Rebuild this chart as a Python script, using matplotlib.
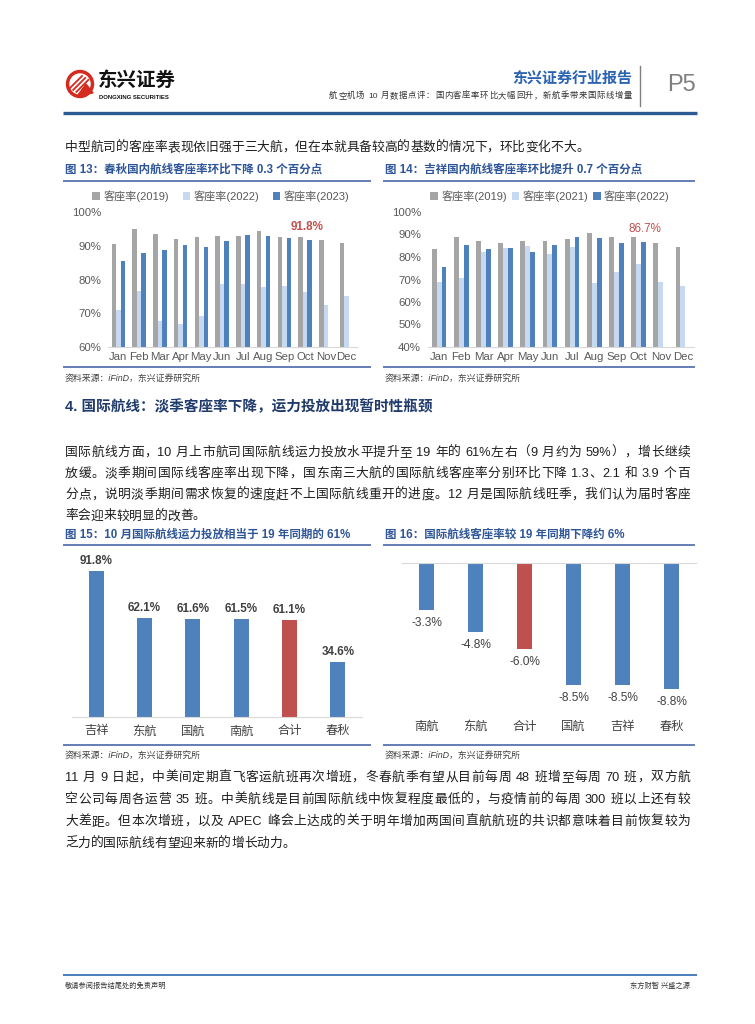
import re
import numpy as np
import matplotlib
matplotlib.use("Agg")
import matplotlib.pyplot as plt
from matplotlib.patches import Patch, Circle, Polygon

W, H = 755, 1024
FONTS = ['Liberation Sans', 'Noto Sans CJK SC']
plt.rcParams['font.family'] = FONTS

# ---- data ----
months = ['Jan', 'Feb', 'Mar', 'Apr', 'May', 'Jun',
          'Jul', 'Aug', 'Sep', 'Oct', 'Nov', 'Dec']

# 图13 春秋国内航线客座率 (%)
cq_2019 = [90.6, 94.9, 93.4, 91.9, 92.5, 92.8, 92.8, 94.5, 92.5, 92.5, 91.6, 90.8]
cq_2022 = [70.9, 76.5, 67.7, 66.8, 69.1, 78.8, 78.8, 77.7, 78.0, 76.2, 72.5, 75.0]
cq_2023 = [85.5, 88.0, 88.8, 90.3, 89.6, 91.3, 93.3, 92.8, 92.2, 91.8]
cq_labels = ['客座率(2019)', '客座率(2022)', '客座率(2023)']

# 图14 吉祥国内航线客座率 (%)
jy_2019 = [83.5, 88.7, 87.2, 86.1, 86.9, 86.9, 88.1, 90.7, 88.7, 89.1, 86.1, 84.3]
jy_2021 = [68.7, 70.8, 82.3, 83.9, 84.8, 81.4, 84.3, 68.6, 73.3, 76.8, 68.7, 67.1]
jy_2022 = [75.4, 85.2, 83.5, 83.9, 82.3, 85.2, 89.0, 88.5, 86.4, 86.7]
jy_labels = ['客座率(2019)', '客座率(2021)', '客座率(2022)']

# 图15 10月国际航线运力投放 / 19年同期 (%)
cap_names = ['吉祥', '东航', '国航', '南航', '合计', '春秋']
cap_values = [91.8, 62.1, 61.6, 61.5, 61.1, 34.6]

# 图16 国际航线客座率较19年同期变化 (pct)
lf_names = ['南航', '东航', '合计', '国航', '吉祥', '春秋']
lf_values = [-3.3, -4.8, -6.0, -8.5, -8.5, -8.8]

para1 = [
    "国际航线方面，10 月上市航司国际航线运力投放水平提升至 19 年的 61%左右（9 月约为 59%），增长继续",
    "放缓。淡季期间国际线客座率出现下降，国东南三大航的国际航线客座率分别环比下降 1.3、2.1 和 3.9 个百",
    "分点，说明淡季期间需求恢复的速度赶不上国际航线重开的进度。12 月是国际航线旺季，我们认为届时客座",
    "率会迎来较明显的改善。",
]
para2 = [
    "11 月 9 日起，中美间定期直飞客运航班再次增班，冬春航季有望从目前每周 48 班增至每周 70 班，双方航",
    "空公司每周各运营 35 班。中美航线是目前国际航线中恢复程度最低的，与疫情前的每周 300 班以上还有较",
    "大差距。但本次增班，以及 APEC 峰会上达成的关于明年增加两国间直航航班的共识都意味着目前恢复较为",
    "乏力的国际航线有望迎来新的增长动力。",
]

GRAY = '#A5A5A5'
LIGHT = '#C6D9F0'
BLUE = '#4F81BD'
RED = '#C0504D'
INK = '#1E1E1E'
TITLE = '#2E5597'
RULE = '#4A67A8'
AXTXT = '#595959'

fig = plt.figure(figsize=(W / 100, H / 100), dpi=100)
page = fig.add_axes([0, 0, 1, 1])
page.set_xlim(0, W)
page.set_ylim(H, 0)
page.axis('off')
renderer = fig.canvas.get_renderer()


def wide(ch):
    return ord(ch[0]) > 0x2e7f


def line(s, x0, y, x1=None, size=9.2, color=INK, weight='normal'):
    # lay out one text line token by token, spreading it to x1 if given
    em = size * 100 / 72
    toks = re.findall(r'[!-~]+| |.', s)
    widths = []
    for tk in toks:
        if tk == ' ':
            widths.append(0.28 * em)
        elif wide(tk):
            widths.append(em)
        else:
            t = page.text(0, 0, tk, fontsize=size, fontweight=weight)
            widths.append(t.get_window_extent(renderer).width)
            t.remove()
    gap = 0.0
    if x1 is not None and len(toks) > 1:
        gap = (x1 - x0 - sum(widths)) / (len(toks) - 1)
    x = x0
    base = y + 0.36 * em
    for tk, w in zip(toks, widths):
        if tk != ' ':
            kw = dict(fontsize=size, color=color, fontweight=weight, va='baseline')
            if wide(tk):
                if tk == '（':
                    page.text(x + w, base, tk, ha='right', **kw)
                elif tk in '，。、：；）':
                    page.text(x, base, tk, ha='left', **kw)
                else:
                    page.text(x + w / 2, base, tk, ha='center', **kw)
            else:
                page.text(x, base, tk, ha='left', **kw)
        x += w + gap


def hrule(x0, x1, y, color=RULE, lw=1.2):
    page.plot([x0, x1], [y, y], color=color, lw=lw, solid_capstyle='butt')


def px_axes(l, t, r, b):
    return fig.add_axes([l / W, 1 - b / H, (r - l) / W, (b - t) / H])


def source(x, y):
    page.text(x, y, '资料来源：iFinD，东兴证券研究所', fontsize=6.4,
              color='#404040', style='italic', va='center')


# ---- header ----
page.add_patch(Circle((80, 84), 13.5, color='#D42A20'))
page.add_patch(Circle((80, 84), 10, color='white'))
for dx in (0, 3.2, 6.4):
    page.plot([70 + dx, 82 + dx], [88 + dx * 0.6, 76 + dx * 0.6], color='#D42A20', lw=1.3)
page.add_patch(Polygon([(78, 95), (86, 84), (93, 93)], color='#D42A20'))
page.text(98, 81, '东兴证券', fontsize=14, fontweight='heavy', color='#111111', va='center')
page.text(99, 97.5, 'DONGXING SECURITIES', fontsize=4.3, fontweight='bold',
          color='#111111', va='center')

page.text(632, 78, '东兴证券行业报告', fontsize=10.8, fontweight='bold',
          color='#2A63B0', ha='right', va='center')
line('航空机场 10 月数据点评：国内客座率环比大幅回升，新航季带来国际线增量',
     329, 95, 632, size=6.0, color='#333333')
page.plot([640, 640], [66, 106], color='#808080', lw=1)
page.text(667, 85, 'P5', fontsize=17, color='#7F7F7F', va='center')
hrule(63, 697, 113, color='#2B5A92', lw=2.4)

line('中型航司的客座率表现依旧强于三大航，但在本就具备较高的基数的情况下，环比变化不大。', 65, 146)

# ---- figure 13 / 14 frames ----
page.text(65, 170, '图 13：春秋国内航线客座率环比下降 0.3 个百分点', fontsize=8.3,
          fontweight='bold', color=TITLE, va='center')
page.text(385, 170, '图 14：吉祥国内航线客座率环比提升 0.7 个百分点', fontsize=8.3,
          fontweight='bold', color=TITLE, va='center')
hrule(63, 371, 181)
hrule(383, 695, 181)
hrule(63, 371, 367)
hrule(383, 695, 367)
source(65, 379)
source(385, 379)


def month_chart(ax, s1, s2, s3, ymin, names, colors, legend_x, colspace):
    x = np.arange(len(months))
    bw = 0.22
    ax.bar(x - bw, s1, bw, color=colors[0])
    ax.bar(x, s2, bw, color=colors[1])
    ax.bar(np.arange(len(s3)) + bw, s3, bw, color=colors[2])
    ax.set_ylim(ymin, 100)
    ax.set_xlim(-0.5, len(months) - 0.5)
    ax.set_yticks(range(ymin, 101, 10))
    ax.set_yticklabels([f'{v}%' for v in range(ymin, 101, 10)])
    ax.set_xticks(x)
    ax.set_xticklabels(months)
    ax.tick_params(length=0, labelsize=8.2, labelcolor=AXTXT)
    ax.tick_params(axis='y', pad=5)
    ax.tick_params(axis='x', pad=3.5)
    for side in ('top', 'right', 'left'):
        ax.spines[side].set_visible(False)
    ax.spines['bottom'].set_color('#D9D9D9')
    ax.patch.set_alpha(0)
    handles = [Patch(facecolor=c) for c in colors]
    fig.legend(handles, names, loc='center', bbox_to_anchor=(legend_x / W, 1 - 196 / H),
               ncol=3, frameon=False, fontsize=8, handlelength=0.7, handleheight=0.7,
               handletextpad=0.3, columnspacing=colspace, labelcolor=AXTXT,
               borderaxespad=0, borderpad=0)


ax13 = px_axes(108, 212, 357, 347)
month_chart(ax13, cq_2019, cq_2022, cq_2023, 60, cq_labels, [GRAY, LIGHT, BLUE], 221, 1.2)
ax13.text(9.1, cq_2023[9] + 2, f'{cq_2023[9]:.1f}%', ha='center', va='bottom',
          fontsize=8.4, fontweight='bold', color=RED)

ax14 = px_axes(428, 212, 694, 347)
month_chart(ax14, jy_2019, jy_2021, jy_2022, 40, jy_labels, [GRAY, LIGHT, BLUE], 550, 0.4)
ax14.text(9.3, jy_2022[9] + 3, f'{jy_2022[9]:.1f}%', ha='center', va='bottom',
          fontsize=8.4, color=RED)

# ---- section 4 ----
page.text(65, 407, '4. 国际航线：淡季客座率下降，运力投放出现暂时性瓶颈', fontsize=10.5,
          fontweight='bold', color='#1F3A6B', va='center')
for i, s in enumerate(para1):
    last = i == len(para1) - 1
    line(s, 65, 451 + i * 21.3, None if last else 690)

# ---- figure 15 / 16 ----
page.text(65, 535, '图 15：10 月国际航线运力投放相当于 19 年同期的 61%', fontsize=8.3,
          fontweight='bold', color=TITLE, va='center')
page.text(385, 535, '图 16：国际航线客座率较 19 年同期下降约 6%', fontsize=8.3,
          fontweight='bold', color=TITLE, va='center')
hrule(63, 371, 545)
hrule(383, 695, 545)
hrule(63, 371, 745)
hrule(383, 695, 745)
source(65, 756)
source(385, 756)

ax15 = px_axes(72, 555, 362, 717)
x = np.arange(len(cap_names))
ax15.bar(x, cap_values, 0.31, color=[RED if n == '合计' else BLUE for n in cap_names])
for i, v in enumerate(cap_values):
    ax15.text(i, v + 2.5, f'{v:.1f}%', ha='center', va='bottom', fontsize=8.4,
              fontweight='bold', color='#404040')
ax15.set_ylim(0, 102)
ax15.set_xlim(-0.5, len(cap_names) - 0.5)
ax15.set_xticks(x)
ax15.set_xticklabels(cap_names)
ax15.set_yticks([])
ax15.tick_params(length=0, labelsize=8.8, labelcolor='#404040', pad=6)
for side in ('top', 'right', 'left'):
    ax15.spines[side].set_visible(False)
ax15.spines['bottom'].set_color('#D9D9D9')
ax15.patch.set_alpha(0)

ax16 = px_axes(402, 563, 696, 715)
x = np.arange(len(lf_names))
ax16.bar(x, lf_values, 0.31, color=[RED if n == '合计' else BLUE for n in lf_names])
for i, v in enumerate(lf_values):
    ax16.text(i, v - 0.5, f'{v:.1f}%', ha='center', va='top', fontsize=8.6, color='#404040')
ax16.set_ylim(-10.6, 0)
ax16.set_xlim(-0.5, len(lf_names) - 0.5)
ax16.set_xticks(x)
ax16.set_xticklabels(lf_names)
ax16.set_yticks([])
ax16.tick_params(length=0, labelsize=8.8, labelcolor='#404040', pad=4.5)
for side in ('bottom', 'right', 'left'):
    ax16.spines[side].set_visible(False)
ax16.spines['top'].set_color('#D9D9D9')
ax16.patch.set_alpha(0)

for i, s in enumerate(para2):
    last = i == len(para2) - 1
    line(s, 65, 776 + i * 22, None if last else 690)

# ---- footer ----
hrule(63, 697, 975, color='#4A7EBB', lw=1.4)
page.text(65, 986, '敬请参阅报告结尾处的免责声明', fontsize=5.2, color='#333333', va='center')
page.text(690, 986, '东方财智 兴盛之源', fontsize=5.2, color='#333333', va='center', ha='right')

fig.savefig('out.png', dpi=100)
